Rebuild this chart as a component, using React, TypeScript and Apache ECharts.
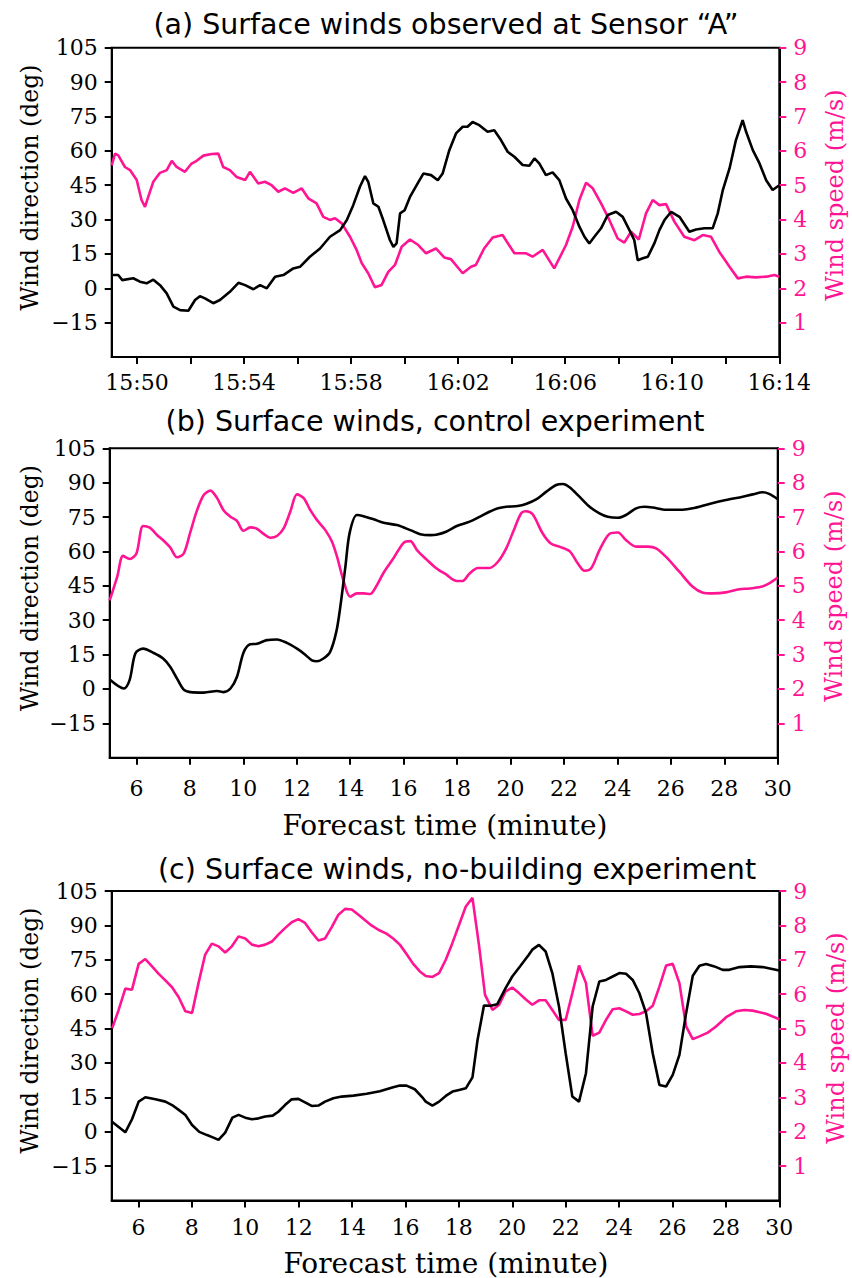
import React, { useEffect, useRef } from "react";
import * as echarts from "echarts";

// Panel (a): observed at Sensor "A" — time in minutes after 15:50
const obsDirection: [number, number][] = [
  [-0.945, 5.8], [-0.7, 5.8], [-0.55, 3.6], [-0.14, 4.4], [0.11, 2.9], [0.36, 2.2], [0.61, 3.8], [0.86, 1.4],
  [1.11, -2.2], [1.36, -8.0], [1.61, -9.5], [1.92, -9.8], [2.17, -5.1], [2.35, -3.4], [2.54, -4.4], [2.85, -6.5],
  [3.1, -5.1], [3.47, -1.5], [3.79, 2.4], [4.04, 1.4], [4.35, -0.4], [4.6, 1.4], [4.85, 0], [5.16, 5.1],
  [5.47, 5.8], [5.84, 8.7], [6.09, 9.4], [6.46, 13.8], [6.84, 17.4], [7.21, 22.5], [7.59, 25.4], [7.84, 29.8],
  [8.08, 36.3], [8.33, 44.3], [8.52, 49.0], [8.64, 46.5], [8.83, 37.1], [9.02, 35.6], [9.2, 29.8], [9.45, 21.1],
  [9.58, 18.1], [9.7, 19.6], [9.83, 32.7], [10.0, 34.1], [10.2, 39.9], [10.45, 45.0], [10.7, 50.1], [10.99, 49.4],
  [11.24, 47.2], [11.42, 50.1], [11.67, 60.3], [11.92, 67.6], [12.17, 70.5], [12.35, 70.5], [12.54, 72.6],
  [12.79, 71.2], [13.1, 68.3], [13.35, 69.0], [13.6, 64.7], [13.85, 59.6], [14.1, 57.4], [14.41, 53.8],
  [14.66, 53.5], [14.85, 56.7], [15.03, 54.5], [15.28, 49.4], [15.53, 50.6], [15.78, 47.2], [16.03, 39.2],
  [16.28, 34.1], [16.53, 26.9], [16.72, 22.5], [16.9, 19.6], [17.09, 22.5], [17.34, 26.2], [17.59, 32.0],
  [17.9, 33.4], [18.15, 31.2], [18.4, 25.4], [18.58, 21.1], [18.71, 12.3], [18.9, 13.1], [19.09, 13.8],
  [19.33, 19.6], [19.52, 25.4], [19.71, 29.8], [19.96, 33.4], [20.27, 31.2], [20.64, 24.7], [20.89, 25.7],
  [21.2, 26.2], [21.51, 26.2], [21.7, 32.7], [21.89, 42.9], [22.14, 52.3], [22.38, 64.7], [22.63, 73.4],
  [22.76, 68.3], [23.01, 60.3], [23.26, 54.5], [23.51, 47.2], [23.75, 42.9], [24.0, 45.0],
];

const obsSpeed: [number, number][] = [
  [-0.945, 5.58], [-0.82, 5.92], [-0.7, 5.87], [-0.45, 5.53], [-0.26, 5.44], [-0.01, 5.15], [0.17, 4.57],
  [0.3, 4.37], [0.42, 4.66], [0.61, 5.1], [0.86, 5.36], [1.11, 5.44], [1.3, 5.71], [1.48, 5.53], [1.79, 5.39],
  [2.04, 5.63], [2.23, 5.71], [2.48, 5.86], [2.79, 5.91], [3.04, 5.92], [3.22, 5.53], [3.47, 5.44], [3.72, 5.24],
  [4.04, 5.15], [4.22, 5.39], [4.53, 5.05], [4.78, 5.1], [5.03, 5.0], [5.28, 4.81], [5.53, 4.91], [5.84, 4.78],
  [6.15, 4.91], [6.4, 4.62], [6.71, 4.47], [6.96, 4.08], [7.21, 3.99], [7.4, 4.04], [7.65, 3.89], [7.96, 3.5],
  [8.21, 3.11], [8.4, 2.73], [8.64, 2.44], [8.89, 2.03], [9.14, 2.1], [9.39, 2.48], [9.64, 2.68], [9.89, 3.21],
  [10.2, 3.42], [10.51, 3.26], [10.8, 3.02], [11.17, 3.16], [11.48, 2.9], [11.73, 2.85], [12.17, 2.44],
  [12.48, 2.63], [12.66, 2.68], [12.97, 3.16], [13.29, 3.48], [13.66, 3.55], [14.1, 3.02], [14.54, 3.02],
  [14.78, 2.92], [15.16, 3.12], [15.59, 2.58], [16.03, 3.26], [16.28, 3.79], [16.53, 4.57], [16.78, 5.07],
  [17.03, 4.91], [17.34, 4.47], [17.65, 3.99], [17.96, 3.45], [18.21, 3.33], [18.46, 3.65], [18.75, 3.42],
  [19.02, 4.18], [19.27, 4.57], [19.52, 4.42], [19.77, 4.45], [20.08, 3.94], [20.45, 3.5], [20.83, 3.4],
  [21.14, 3.55], [21.45, 3.5], [21.76, 3.06], [22.14, 2.63], [22.45, 2.29], [22.76, 2.34], [23.13, 2.32],
  [23.51, 2.34], [23.82, 2.39], [24.0, 2.34],
];

// Panel (b): control experiment — forecast minute
const ctlDirection: [number, number][] = [
  [5.0, 4.1], [5.53, 0.2], [5.75, 4.1], [5.96, 15.5], [6.25, 17.6], [6.65, 15.7], [7.0, 13.3], [7.27, 9.6],
  [7.52, 4.5], [7.77, -0.3], [8.02, -1.4], [8.52, -1.6], [9.02, -0.9], [9.26, -1.4], [9.52, 0.2], [9.76, 5.2],
  [10.01, 15.9], [10.26, 19.5], [10.51, 19.7], [10.88, 21.3], [11.26, 21.6], [11.63, 20.1], [12.01, 17.6],
  [12.26, 15.5], [12.57, 12.5], [12.75, 12.1], [13.0, 13.3], [13.25, 16.2], [13.48, 24.9], [13.63, 35.8],
  [13.82, 53.3], [13.98, 68.1], [14.25, 75.9], [14.5, 75.4], [14.88, 74.0], [15.25, 72.5], [15.75, 71.5],
  [16.25, 69.3], [16.62, 67.5], [17.0, 67.1], [17.22, 67.3], [17.59, 68.6], [17.99, 71.1], [18.47, 73.0],
  [18.84, 75.1], [19.21, 77.3], [19.53, 78.8], [19.84, 79.5], [20.27, 79.8], [20.58, 80.7], [20.96, 82.7],
  [21.33, 86.0], [21.71, 89.0], [21.96, 89.4], [22.21, 88.0], [22.58, 83.9], [22.96, 79.5], [23.33, 76.6],
  [23.64, 75.1], [24.02, 74.7], [24.32, 75.9], [24.7, 78.8], [25.01, 79.5], [25.32, 79.2], [25.82, 78.2],
  [26.44, 78.2], [26.82, 78.8], [27.44, 80.7], [28.06, 82.4], [28.69, 83.9], [29.06, 84.9], [29.44, 85.8],
  [29.68, 85.1], [30.0, 82.8],
];

const ctlSpeed: [number, number][] = [
  [5.0, 4.58], [5.28, 5.26], [5.5, 5.87], [5.75, 5.78], [6.0, 5.94], [6.25, 6.74], [6.5, 6.69], [6.77, 6.48],
  [7.02, 6.31], [7.27, 6.11], [7.52, 5.83], [7.77, 5.94], [8.02, 6.57], [8.27, 7.2], [8.52, 7.64], [8.77, 7.77],
  [9.02, 7.55], [9.26, 7.2], [9.52, 7.01], [9.76, 6.89], [10.01, 6.6], [10.26, 6.7], [10.51, 6.66], [10.76, 6.51],
  [11.01, 6.4], [11.26, 6.45], [11.51, 6.67], [11.76, 7.16], [12.01, 7.66], [12.26, 7.55], [12.51, 7.2],
  [12.76, 6.91], [13.07, 6.62], [13.32, 6.28], [13.51, 5.84], [13.76, 5.12], [14.0, 4.68], [14.25, 4.78],
  [14.5, 4.78], [14.75, 4.76], [15.0, 5.02], [15.25, 5.38], [15.62, 5.8], [16.0, 6.25], [16.25, 6.3],
  [16.5, 6.04], [16.85, 5.77], [17.22, 5.51], [17.59, 5.33], [17.99, 5.14], [18.21, 5.14], [18.47, 5.36],
  [18.78, 5.52], [19.21, 5.52], [19.53, 5.7], [19.84, 6.09], [20.15, 6.67], [20.4, 7.11], [20.58, 7.17],
  [20.83, 7.08], [21.2, 6.53], [21.51, 6.23], [21.83, 6.14], [22.21, 6.01], [22.52, 5.65], [22.77, 5.44],
  [23.02, 5.51], [23.33, 6.04], [23.7, 6.51], [24.02, 6.55], [24.32, 6.33], [24.7, 6.14], [25.14, 6.14],
  [25.45, 6.09], [25.82, 5.84], [26.32, 5.41], [26.82, 4.97], [27.2, 4.8], [27.57, 4.78], [28.06, 4.81],
  [28.56, 4.9], [28.94, 4.92], [29.37, 4.97], [29.68, 5.07], [30.0, 5.24],
];

// Panel (c): no-building experiment — forecast minute
const nbDirection: [number, number][] = [
  [5.0, 4.4], [5.51, -0.3], [5.76, 5.4], [6.01, 13.1], [6.26, 15.0], [6.64, 14.1], [7.01, 13.1], [7.26, 11.6],
  [7.51, 9.5], [7.76, 7.3], [8.01, 2.9], [8.28, -0.1], [8.57, -1.5], [8.81, -2.6], [9.0, -3.6], [9.25, -0.4],
  [9.52, 6.1], [9.75, 7.3], [10.0, 6.1], [10.25, 5.4], [10.5, 5.8], [10.75, 6.6], [11.03, 7.0], [11.24, 8.7],
  [11.49, 11.6], [11.74, 14.1], [11.99, 14.3], [12.24, 12.8], [12.49, 11.2], [12.74, 11.4], [12.99, 13.1],
  [13.3, 14.6], [13.61, 15.3], [14.05, 15.7], [14.55, 16.5], [15.04, 17.6], [15.54, 19.4], [15.79, 20.1],
  [16.04, 20.1], [16.35, 18.5], [16.66, 14.6], [16.76, 13.1], [17.01, 11.4], [17.26, 13.1], [17.51, 15.6],
  [17.76, 17.5], [18.01, 18.2], [18.26, 18.9], [18.51, 23.7], [18.7, 40.0], [18.94, 55.0], [19.19, 54.9],
  [19.44, 55.6], [19.75, 62.6], [20.0, 67.7], [20.31, 72.4], [20.62, 77.2], [20.75, 79.4], [21.0, 81.5],
  [21.25, 78.6], [21.5, 69.2], [21.75, 54.6], [22.0, 34.2], [22.25, 15.3], [22.5, 13.1], [22.76, 25.5],
  [23.01, 54.6], [23.26, 65.5], [23.51, 66.2], [23.76, 67.7], [24.01, 69.2], [24.26, 68.9], [24.51, 66.2],
  [24.76, 60.4], [25.01, 51.7], [25.26, 34.2], [25.51, 20.4], [25.76, 19.7], [26.01, 24.8], [26.26, 33.5],
  [26.51, 51.7], [26.76, 68.0], [27.01, 72.4], [27.26, 73.1], [27.57, 72.1], [27.88, 70.6], [28.13, 70.6],
  [28.51, 71.8], [28.94, 72.1], [29.38, 71.8], [30.0, 70.3],
];

const nbSpeed: [number, number][] = [
  [5.02, 5.01], [5.26, 5.54], [5.51, 6.16], [5.76, 6.13], [6.01, 6.88], [6.26, 7.02], [6.51, 6.81], [6.76, 6.59],
  [7.01, 6.4], [7.26, 6.2], [7.51, 5.91], [7.76, 5.5], [8.01, 5.45], [8.25, 6.32], [8.5, 7.15], [8.75, 7.47],
  [9.0, 7.39], [9.25, 7.21], [9.5, 7.39], [9.75, 7.68], [10.0, 7.62], [10.25, 7.44], [10.5, 7.39], [10.75, 7.44],
  [11.0, 7.53], [11.24, 7.73], [11.49, 7.92], [11.74, 8.09], [11.99, 8.18], [12.24, 8.07], [12.49, 7.8],
  [12.74, 7.56], [12.99, 7.62], [13.24, 7.95], [13.49, 8.31], [13.74, 8.48], [13.99, 8.46], [14.24, 8.31],
  [14.49, 8.15], [14.74, 7.99], [15.04, 7.85], [15.29, 7.76], [15.54, 7.62], [15.79, 7.44], [16.04, 7.17],
  [16.29, 6.88], [16.54, 6.66], [16.76, 6.53], [17.01, 6.5], [17.26, 6.61], [17.51, 7.0], [17.76, 7.49],
  [18.01, 8.02], [18.26, 8.55], [18.51, 8.8], [18.76, 7.39], [18.98, 5.98], [19.26, 5.54], [19.51, 5.69],
  [19.75, 6.08], [20.0, 6.19], [20.25, 6.03], [20.5, 5.85], [20.75, 5.69], [21.0, 5.82], [21.25, 5.82],
  [21.5, 5.54], [21.75, 5.25], [22.0, 5.25], [22.25, 6.03], [22.5, 6.83], [22.76, 6.32], [23.01, 4.79],
  [23.26, 4.88], [23.51, 5.25], [23.76, 5.56], [24.01, 5.59], [24.26, 5.5], [24.51, 5.4], [24.76, 5.42],
  [25.01, 5.5], [25.26, 5.66], [25.51, 6.22], [25.76, 6.83], [26.01, 6.88], [26.26, 6.32], [26.51, 5.06],
  [26.76, 4.69], [27.01, 4.77], [27.32, 4.88], [27.63, 5.06], [28.01, 5.33], [28.38, 5.5], [28.69, 5.54],
  [29.0, 5.52], [29.5, 5.43], [30.0, 5.27],
];

// Axis ticks and labels
const dirTicks = [-15, 0, 15, 30, 45, 60, 75, 90, 105];
const speedTicks = [1, 2, 3, 4, 5, 6, 7, 8, 9];
const clockTicks = [0, 2, 4, 6, 8, 10, 12, 14, 16, 18, 20, 22, 24];
const clockLabels = [0, 4, 8, 12, 16, 20, 24];
const forecastTicks = [6, 8, 10, 12, 14, 16, 18, 20, 22, 24, 26, 28, 30];

const titles = [
  "(a) Surface winds observed at Sensor \u201CA\u201D",
  "(b) Surface winds, control experiment",
  "(c) Surface winds, no-building experiment",
];
const dirName = "Wind direction (deg)";
const speedName = "Wind speed (m/s)";
const timeName = "Forecast time (minute)";

const PINK = "#ff1493";
const BLACK = "#000000";
const TICK_FONT = "'DejaVu Serif', serif";
const TITLE_FONT = "'DejaVu Sans', sans-serif";

const grids = [
  { left: 111.7, top: 47.7, width: 667.6, height: 309.4 },
  { left: 109.7, top: 448.3, width: 668.0, height: 309.4 },
  { left: 111.7, top: 891.0, width: 667.6, height: 309.4 },
];

const minus = (v: number) => (v < 0 ? "\u2212" + Math.abs(v) : String(v));
const clock = (v: number) => {
  const total = 15 * 60 + 50 + Math.round(v);
  const h = Math.floor(total / 60);
  const m = total % 60;
  return `${h}:${m < 10 ? "0" + m : m}`;
};

function buildOption() {
  const xAxis: any[] = [];
  const yAxis: any[] = [];
  const series: any[] = [];
  const xLabelMargins = [14, 20, 16];

  grids.forEach((_, i) => {
    const isClock = i === 0;
    xAxis.push({
      type: "value",
      gridIndex: i,
      min: isClock ? -0.945 : 5,
      max: isClock ? 24 : 30,
      splitLine: { show: false },
      axisLine: { show: true, onZero: false, lineStyle: { color: BLACK, width: 2 } },
      axisTick: {
        show: true,
        inside: false,
        length: 7,
        lineStyle: { color: BLACK, width: 2 },
        customValues: isClock ? clockTicks : forecastTicks,
      },
      axisLabel: {
        show: true,
        color: BLACK,
        fontFamily: TICK_FONT,
        fontSize: 22,
        margin: xLabelMargins[i],
        customValues: isClock ? clockLabels : forecastTicks,
        formatter: isClock ? clock : (v: number) => String(v),
      },
    });
    yAxis.push({
      type: "value",
      gridIndex: i,
      position: "left",
      min: -30,
      max: 105,
      interval: 15,
      splitLine: { show: false },
      axisLine: { show: true, onZero: false, lineStyle: { color: BLACK, width: 2 } },
      axisTick: { show: true, inside: false, length: 7, lineStyle: { color: BLACK, width: 2 }, customValues: dirTicks },
      axisLabel: {
        show: true,
        color: BLACK,
        fontFamily: TICK_FONT,
        fontSize: 22,
        margin: 14,
        customValues: dirTicks,
        formatter: minus,
      },
    });
    yAxis.push({
      type: "value",
      gridIndex: i,
      position: "right",
      min: 0,
      max: 9,
      interval: 1,
      splitLine: { show: false },
      axisLine: { show: true, onZero: false, lineStyle: { color: BLACK, width: 2 } },
      axisTick: { show: true, inside: false, length: 7, lineStyle: { color: PINK, width: 2 }, customValues: speedTicks },
      axisLabel: {
        show: true,
        color: PINK,
        fontFamily: TICK_FONT,
        fontSize: 22,
        margin: 14,
        customValues: speedTicks,
      },
    });
  });

  const pairs = [
    [obsDirection, obsSpeed, false],
    [ctlDirection, ctlSpeed, 0.3],
    [nbDirection, nbSpeed, false],
  ] as const;

  pairs.forEach(([dir, spd, smooth], i) => {
    series.push({
      type: "line",
      xAxisIndex: i,
      yAxisIndex: i * 2 + 1,
      data: spd,
      showSymbol: false,
      symbol: "none",
      smooth,
      lineStyle: { color: PINK, width: 2.6 },
      z: 3,
    });
    series.push({
      type: "line",
      xAxisIndex: i,
      yAxisIndex: i * 2,
      data: dir,
      showSymbol: false,
      symbol: "none",
      smooth,
      lineStyle: { color: BLACK, width: 2.6 },
      z: 4,
    });
  });

  const titlePos = [
    [446, 24],
    [435, 421],
    [457, 869],
  ];
  const leftNamePos = [
    [30, 187.5],
    [30, 588],
    [30, 1030.5],
  ];
  const rightNamePos = [
    [835, 195],
    [834, 596],
    [836, 1038],
  ];
  const bottomNamePos = [
    [445, 825],
    [446, 1263],
  ];

  const graphic: any[] = [];
  titles.forEach((t, i) => {
    graphic.push({
      type: "text",
      x: titlePos[i][0],
      y: titlePos[i][1],
      style: { text: t, fill: BLACK, font: `28.5px ${TITLE_FONT}`, align: "center", verticalAlign: "middle" },
    });
    graphic.push({
      type: "text",
      x: leftNamePos[i][0],
      y: leftNamePos[i][1],
      rotation: Math.PI / 2,
      style: { text: dirName, fill: BLACK, font: `23.5px ${TICK_FONT}`, align: "center", verticalAlign: "middle" },
    });
    graphic.push({
      type: "text",
      x: rightNamePos[i][0],
      y: rightNamePos[i][1],
      rotation: Math.PI / 2,
      style: { text: speedName, fill: PINK, font: `24px ${TICK_FONT}`, align: "center", verticalAlign: "middle" },
    });
  });
  bottomNamePos.forEach((p) => {
    graphic.push({
      type: "text",
      x: p[0],
      y: p[1],
      style: { text: timeName, fill: BLACK, font: `28px ${TICK_FONT}`, align: "center", verticalAlign: "middle" },
    });
  });

  return {
    animation: false,
    backgroundColor: "#ffffff",
    grid: grids.map((g) => ({
      ...g,
      show: true,
      borderColor: BLACK,
      borderWidth: 2,
      backgroundColor: "transparent",
      containLabel: false,
      outerBoundsMode: "none",
    })),
    xAxis,
    yAxis,
    series,
    graphic,
  };
}

export default function App() {
  const ref = useRef<HTMLDivElement>(null);
  useEffect(() => {
    if (!ref.current) return;
    const chart = echarts.init(ref.current, undefined, { renderer: "svg" });
    chart.setOption(buildOption() as any);
    return () => chart.dispose();
  }, []);
  return (
    <div
      ref={ref}
      style={{ position: "fixed", left: 0, top: 0, width: 852, height: 1278, background: "#fff" }}
    />
  );
}
